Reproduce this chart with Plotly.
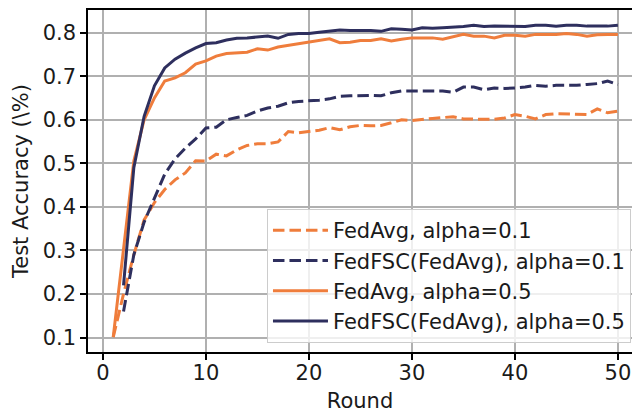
import plotly.graph_objects as go

rounds_a = list(range(1, 51))
rounds_b = list(range(2, 51))

fedavg_01 = [0.101, 0.200, 0.290, 0.370, 0.410, 0.440, 0.462, 0.478, 0.506, 0.505,
             0.521, 0.517, 0.531, 0.541, 0.545, 0.545, 0.549, 0.573, 0.570, 0.573,
             0.576, 0.582, 0.577, 0.584, 0.587, 0.586, 0.587, 0.593, 0.600, 0.598,
             0.601, 0.603, 0.605, 0.607, 0.602, 0.601, 0.601, 0.601, 0.604, 0.612,
             0.608, 0.602, 0.612, 0.614, 0.613, 0.612, 0.612, 0.625, 0.616, 0.620]

fedfsc_01 = [0.160, 0.290, 0.365, 0.420, 0.475, 0.510, 0.535, 0.556, 0.581,
             0.583, 0.600, 0.605, 0.610, 0.620, 0.627, 0.631, 0.639, 0.642, 0.643,
             0.645, 0.648, 0.654, 0.655, 0.656, 0.656, 0.655, 0.662, 0.666, 0.666,
             0.666, 0.667, 0.666, 0.663, 0.675, 0.675, 0.669, 0.673, 0.672, 0.673,
             0.675, 0.679, 0.677, 0.679, 0.679, 0.679, 0.681, 0.683, 0.689, 0.681]

fedavg_05 = [0.101, 0.300, 0.505, 0.600, 0.650, 0.689, 0.696, 0.708, 0.728, 0.735,
             0.746, 0.752, 0.754, 0.755, 0.763, 0.760, 0.767, 0.771, 0.774, 0.779,
             0.782, 0.786, 0.777, 0.778, 0.782, 0.782, 0.786, 0.781, 0.785, 0.788,
             0.788, 0.788, 0.785, 0.791, 0.796, 0.792, 0.792, 0.788, 0.794, 0.794,
             0.792, 0.796, 0.796, 0.796, 0.798, 0.796, 0.792, 0.795, 0.796, 0.796]

fedfsc_05 = [0.220, 0.490, 0.608, 0.678, 0.719, 0.739, 0.753, 0.765, 0.775,
             0.777, 0.783, 0.787, 0.788, 0.790, 0.792, 0.787, 0.796, 0.798, 0.798,
             0.801, 0.803, 0.806, 0.805, 0.805, 0.805, 0.803, 0.809, 0.808, 0.806,
             0.811, 0.810, 0.811, 0.812, 0.814, 0.817, 0.814, 0.815, 0.815, 0.814,
             0.814, 0.817, 0.817, 0.815, 0.817, 0.817, 0.815, 0.815, 0.815, 0.817]

x_ticks = [0, 10, 20, 30, 40, 50]
y_ticks = [0.1, 0.2, 0.3, 0.4, 0.5, 0.6, 0.7, 0.8]

ORANGE = "#EF7D3C"
NAVY = "#2E2F5E"
FONT = "DejaVu Sans"
TXT = "#1a1a1a"
FS = 21
DASH = "11.5px,5px"

fig = go.Figure()
series = [
    ("FedAvg, alpha=0.1", rounds_a, fedavg_01, ORANGE, DASH),
    ("FedFSC(FedAvg), alpha=0.1", rounds_b, fedfsc_01, NAVY, DASH),
    ("FedAvg, alpha=0.5", rounds_a, fedavg_05, ORANGE, "solid"),
    ("FedFSC(FedAvg), alpha=0.5", rounds_b, fedfsc_05, NAVY, "solid"),
]
for i, (name, xs, ys, col, dash) in enumerate(series):
    fig.add_trace(go.Scatter(
        x=xs, y=ys, mode="lines", name=name, legendgroup=f"g{i}",
        line=dict(color=col, width=3, dash=dash),
    ))

fig.update_layout(
    width=632, height=414,
    margin=dict(l=88, r=0, t=10, b=62),
    paper_bgcolor="white", plot_bgcolor="white",
    font=dict(family=FONT, size=FS, color=TXT),
    showlegend=True,
    legend=dict(
        x=0.329, y=0.418, xanchor="left", yanchor="top",
        bgcolor="rgba(255,255,255,0.8)", bordercolor="#cccccc", borderwidth=1,
        font=dict(family=FONT, size=FS, color=TXT),
        tracegroupgap=0, traceorder="grouped", itemwidth=55,
    ),
    xaxis=dict(
        range=[-1.45, 51.37], tickvals=x_ticks, ticktext=[str(v) for v in x_ticks],
        showgrid=True, gridcolor="#b0b0b0", gridwidth=1.5,
        showline=True, linecolor="black", linewidth=1.5, mirror=True,
        ticks="outside", ticklen=6, tickwidth=1.5, tickcolor="black",
        tickfont=dict(family=FONT, size=FS, color=TXT),
        ticklabelstandoff=-5,
        title=dict(text="Round", font=dict(family=FONT, size=FS, color=TXT), standoff=9),
        zeroline=False,
    ),
    yaxis=dict(
        range=[0.0668, 0.852], tickvals=y_ticks, ticktext=[f"{v:.1f}" for v in y_ticks],
        showgrid=True, gridcolor="#b0b0b0", gridwidth=1.5,
        showline=True, linecolor="black", linewidth=1.5, mirror=False,
        ticks="outside", ticklen=6, tickwidth=1.5, tickcolor="black",
        tickfont=dict(family=FONT, size=FS, color=TXT),
        title=dict(text="Test Accuracy (\\%)", font=dict(family=FONT, size=FS, color=TXT), standoff=8),
        zeroline=False,
    ),
)

fig.write_html("out.html")
